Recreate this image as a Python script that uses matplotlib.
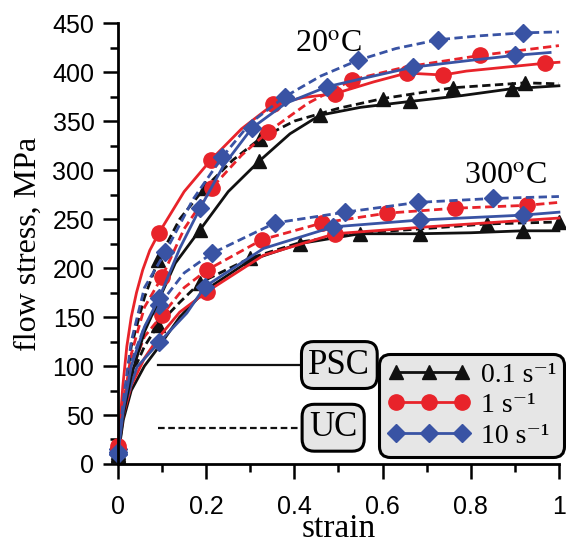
import matplotlib.pyplot as plt

plt.rcParams['mathtext.fontset'] = 'stix'

# =============================
# Data (strain, flow stress in MPa)
# marks_* = indices of the points that carry a marker
# =============================

# ---- 20 C ----
strain_k_psc_20 = [0, 0.012, 0.03, 0.06, 0.09, 0.13, 0.186, 0.25, 0.32, 0.39, 0.458, 0.55, 0.662, 0.78, 0.893, 1.0]
stress_k_psc_20 = [8, 50, 90, 135, 165, 205, 239, 278, 309, 337, 356, 364, 370, 376, 383, 386]
marks_k_psc_20 = [0, 6, 8, 10, 12, 14]

strain_k_uc_20 = [0, 0.012, 0.03, 0.06, 0.091, 0.14, 0.197, 0.26, 0.322, 0.40, 0.50, 0.601, 0.76, 0.923, 1.0]
stress_k_uc_20 = [12, 60, 120, 170, 208, 250, 282, 310, 332, 350, 363, 373, 384, 389, 388]
marks_k_uc_20 = [0, 4, 6, 8, 11, 12, 13]

strain_r_psc_20 = [0, 0.011, 0.02, 0.03, 0.042, 0.056, 0.072, 0.093, 0.15, 0.21, 0.28, 0.352, 0.42, 0.492, 0.58, 0.655, 0.737, 0.79, 0.968, 1.0]
stress_r_psc_20 = [15, 80, 120, 150, 175, 198, 218, 236, 278, 310, 342, 367, 374, 378, 390, 399, 397, 401, 409, 410]
marks_r_psc_20 = [0, 7, 9, 11, 13, 15, 16, 18]

strain_r_uc_20 = [0, 0.012, 0.03, 0.06, 0.1, 0.15, 0.213, 0.28, 0.34, 0.43, 0.531, 0.65, 0.821, 1.0]
stress_r_uc_20 = [18, 60, 112, 160, 191, 240, 282, 315, 339, 368, 392, 405, 417, 427]
marks_r_uc_20 = [0, 4, 6, 8, 10, 12]

strain_b_psc_20 = [0, 0.012, 0.03, 0.06, 0.093, 0.14, 0.186, 0.24, 0.304, 0.38, 0.474, 0.57, 0.669, 0.8, 0.900, 0.98]
stress_b_psc_20 = [10, 55, 100, 140, 169, 220, 261, 305, 343, 368, 385, 395, 405, 412, 417, 420]
marks_b_psc_20 = [0, 4, 6, 8, 10, 12, 14]

strain_b_uc_20 = [0, 0.012, 0.03, 0.06, 0.107, 0.17, 0.236, 0.30, 0.379, 0.46, 0.544, 0.63, 0.726, 0.82, 0.918, 1.0]
stress_b_uc_20 = [12, 65, 125, 180, 216, 270, 313, 348, 375, 396, 412, 424, 433, 437, 440, 441]
marks_b_uc_20 = [0, 4, 6, 8, 10, 12, 14]

# ---- 300 C ----
strain_k_psc_300 = [0, 0.012, 0.03, 0.06, 0.09, 0.14, 0.2, 0.3, 0.413, 0.549, 0.685, 0.8, 0.918, 1.0]
stress_k_psc_300 = [8, 45, 75, 100, 118, 150, 178, 208, 225, 235, 235, 236, 238, 238]
marks_k_psc_300 = [0, 6, 8, 9, 10, 12]

strain_k_uc_300 = [0, 0.012, 0.03, 0.06, 0.091, 0.14, 0.186, 0.299, 0.42, 0.553, 0.689, 0.837, 1.0]
stress_k_uc_300 = [10, 55, 90, 120, 142, 165, 185, 210, 227, 236, 240, 245, 247]
marks_k_uc_300 = [0, 4, 6, 7, 11, 12]

strain_r_psc_300 = [0, 0.012, 0.03, 0.06, 0.09, 0.14, 0.202, 0.33, 0.492, 0.7, 1.0]
stress_r_psc_300 = [12, 50, 80, 108, 128, 155, 176, 213, 235, 242, 251]
marks_r_psc_300 = [0, 6, 8]

strain_r_uc_300 = [0, 0.012, 0.03, 0.06, 0.1, 0.15, 0.202, 0.327, 0.463, 0.61, 0.764, 0.927, 1.0]
stress_r_uc_300 = [14, 60, 95, 130, 152, 180, 198, 229, 246, 256, 261, 264, 267]
marks_r_uc_300 = [0, 4, 6, 7, 8, 9, 10, 11]

strain_b_psc_300 = [0, 0.011, 0.043, 0.093, 0.156, 0.197, 0.33, 0.488, 0.685, 0.918, 1.0]
stress_b_psc_300 = [10, 55, 99, 124, 154, 181, 220, 242, 249, 254, 257]
marks_b_psc_300 = [0, 3, 5, 7, 8, 9]

strain_b_uc_300 = [0, 0.012, 0.03, 0.06, 0.093, 0.15, 0.213, 0.356, 0.515, 0.680, 0.850, 1.0]
stress_b_uc_300 = [15, 65, 105, 140, 162, 195, 215, 246, 257, 267, 271, 273]
marks_b_uc_300 = [0, 4, 6, 7, 8, 9, 10]

rate_labels = ['0.1 s\u207b\u00b9', '1 s\u207b\u00b9', '10 s\u207b\u00b9']
temp_labels = ['20$^{\\mathrm{o}}$C', '300$^{\\mathrm{o}}$C']
test_labels = ['PSC', 'UC']
key_line_strain = [0.09, 0.413]
key_line_stress = [101, 37]

# =============================
# Styles
# =============================
RED = '#e8232a'
BLUE = '#3953a4'
BLACK = '#111111'
SOLID = '-'
DASH = (0, (3, 1.6))
SERIF = 'Liberation Serif'
SANS = 'Liberation Sans'
LW = 2.0

curves = [
    (strain_k_psc_300, stress_k_psc_300, marks_k_psc_300, BLACK, '^', SOLID),
    (strain_k_uc_300, stress_k_uc_300, marks_k_uc_300, BLACK, '^', DASH),
    (strain_r_psc_300, stress_r_psc_300, marks_r_psc_300, RED, 'o', SOLID),
    (strain_r_uc_300, stress_r_uc_300, marks_r_uc_300, RED, 'o', DASH),
    (strain_b_psc_300, stress_b_psc_300, marks_b_psc_300, BLUE, 'D', SOLID),
    (strain_b_uc_300, stress_b_uc_300, marks_b_uc_300, BLUE, 'D', DASH),
    (strain_k_psc_20, stress_k_psc_20, marks_k_psc_20, BLACK, '^', SOLID),
    (strain_k_uc_20, stress_k_uc_20, marks_k_uc_20, BLACK, '^', DASH),
    (strain_r_psc_20, stress_r_psc_20, marks_r_psc_20, RED, 'o', SOLID),
    (strain_r_uc_20, stress_r_uc_20, marks_r_uc_20, RED, 'o', DASH),
    (strain_b_psc_20, stress_b_psc_20, marks_b_psc_20, BLUE, 'D', SOLID),
    (strain_b_uc_20, stress_b_uc_20, marks_b_uc_20, BLUE, 'D', DASH),
]
marker_size = {'^': 10, 'o': 11, 'D': 9.5}

fig = plt.figure(figsize=(5.66, 5.43), dpi=100)
ax = fig.add_axes([0.2085, 0.1455, 0.779, 0.812])

for x, y, marks, color, marker, ls in curves:
    ax.plot(x, y, color=color, linestyle=ls, lw=LW, marker=marker,
            markevery=marks, ms=marker_size[marker], mec=color, mfc=color,
            clip_on=False)

# key lines for test type
ax.plot(key_line_strain, [key_line_stress[0]] * 2, color=BLACK, lw=1.6)
ax.plot(key_line_strain, [key_line_stress[1]] * 2, color=BLACK, lw=1.6, linestyle=DASH)
box = dict(boxstyle='round,pad=0.2,rounding_size=0.35', fc='#e6e6e6', ec='black', lw=2.2)
ax.text(0.502, key_line_stress[0], test_labels[0], fontsize=25, family=SERIF,
        ha='center', va='center', bbox=box)
ax.text(0.488, key_line_stress[1], test_labels[1], fontsize=25, family=SERIF,
        ha='center', va='center', bbox=box)

# temperature labels
ax.text(0.476, 428, temp_labels[0], fontsize=23, family=SERIF, ha='center', va='center')
ax.text(0.878, 293, temp_labels[1], fontsize=23, family=SERIF, ha='center', va='center')

# rate legend
handles = [
    plt.Line2D([], [], color=BLACK, marker='^', ms=10, lw=LW),
    plt.Line2D([], [], color=RED, marker='o', ms=11, lw=LW),
    plt.Line2D([], [], color=BLUE, marker='D', ms=9.5, lw=LW),
]
leg = ax.legend(handles, rate_labels, loc='lower right', bbox_to_anchor=(1.012, 0.016),
                prop={'family': [SERIF, 'DejaVu Serif'], 'size': 20}, numpoints=3,
                handlelength=3.0, handletextpad=0.35, borderpad=0.3, labelspacing=0.18,
                fancybox=True, framealpha=1, borderaxespad=0)
leg.get_frame().set_facecolor('#e6e6e6')
leg.get_frame().set_edgecolor('black')
leg.get_frame().set_linewidth(2.2)
leg.get_frame().set_boxstyle('round,pad=0,rounding_size=0.4')

# axes
ax.set_xlim(0, 1)
ax.set_ylim(0, 450)
ax.set_xticks([0, 0.2, 0.4, 0.6, 0.8, 1.0])
ax.set_xticklabels(['0', '0.2', '0.4', '0.6', '0.8', '1'])
ax.set_xticks([0.1, 0.3, 0.5, 0.7, 0.9], minor=True)
ax.set_yticks(range(0, 451, 50))
ax.set_yticks(range(25, 450, 50), minor=True)
for lab in ax.get_xticklabels() + ax.get_yticklabels():
    lab.set_family(SANS)
    lab.set_fontsize(18)
ax.tick_params(which='major', direction='out', length=11, width=1.8, pad=6)
ax.tick_params(which='minor', direction='out', length=6, width=1.8)
ax.tick_params(axis='x', which='major', pad=11)
for s in ['top', 'right']:
    ax.spines[s].set_visible(False)
for s in ['left', 'bottom']:
    ax.spines[s].set_linewidth(2)

ax.set_xlabel('strain', fontsize=24, family=SERIF, va='top')
ax.xaxis.set_label_coords(0.5, -0.112)
ax.set_ylabel('flow stress, MPa', fontsize=23, family=SERIF)
ax.yaxis.set_label_coords(-0.17, 0.5)

fig.savefig('out.png', dpi=100)
